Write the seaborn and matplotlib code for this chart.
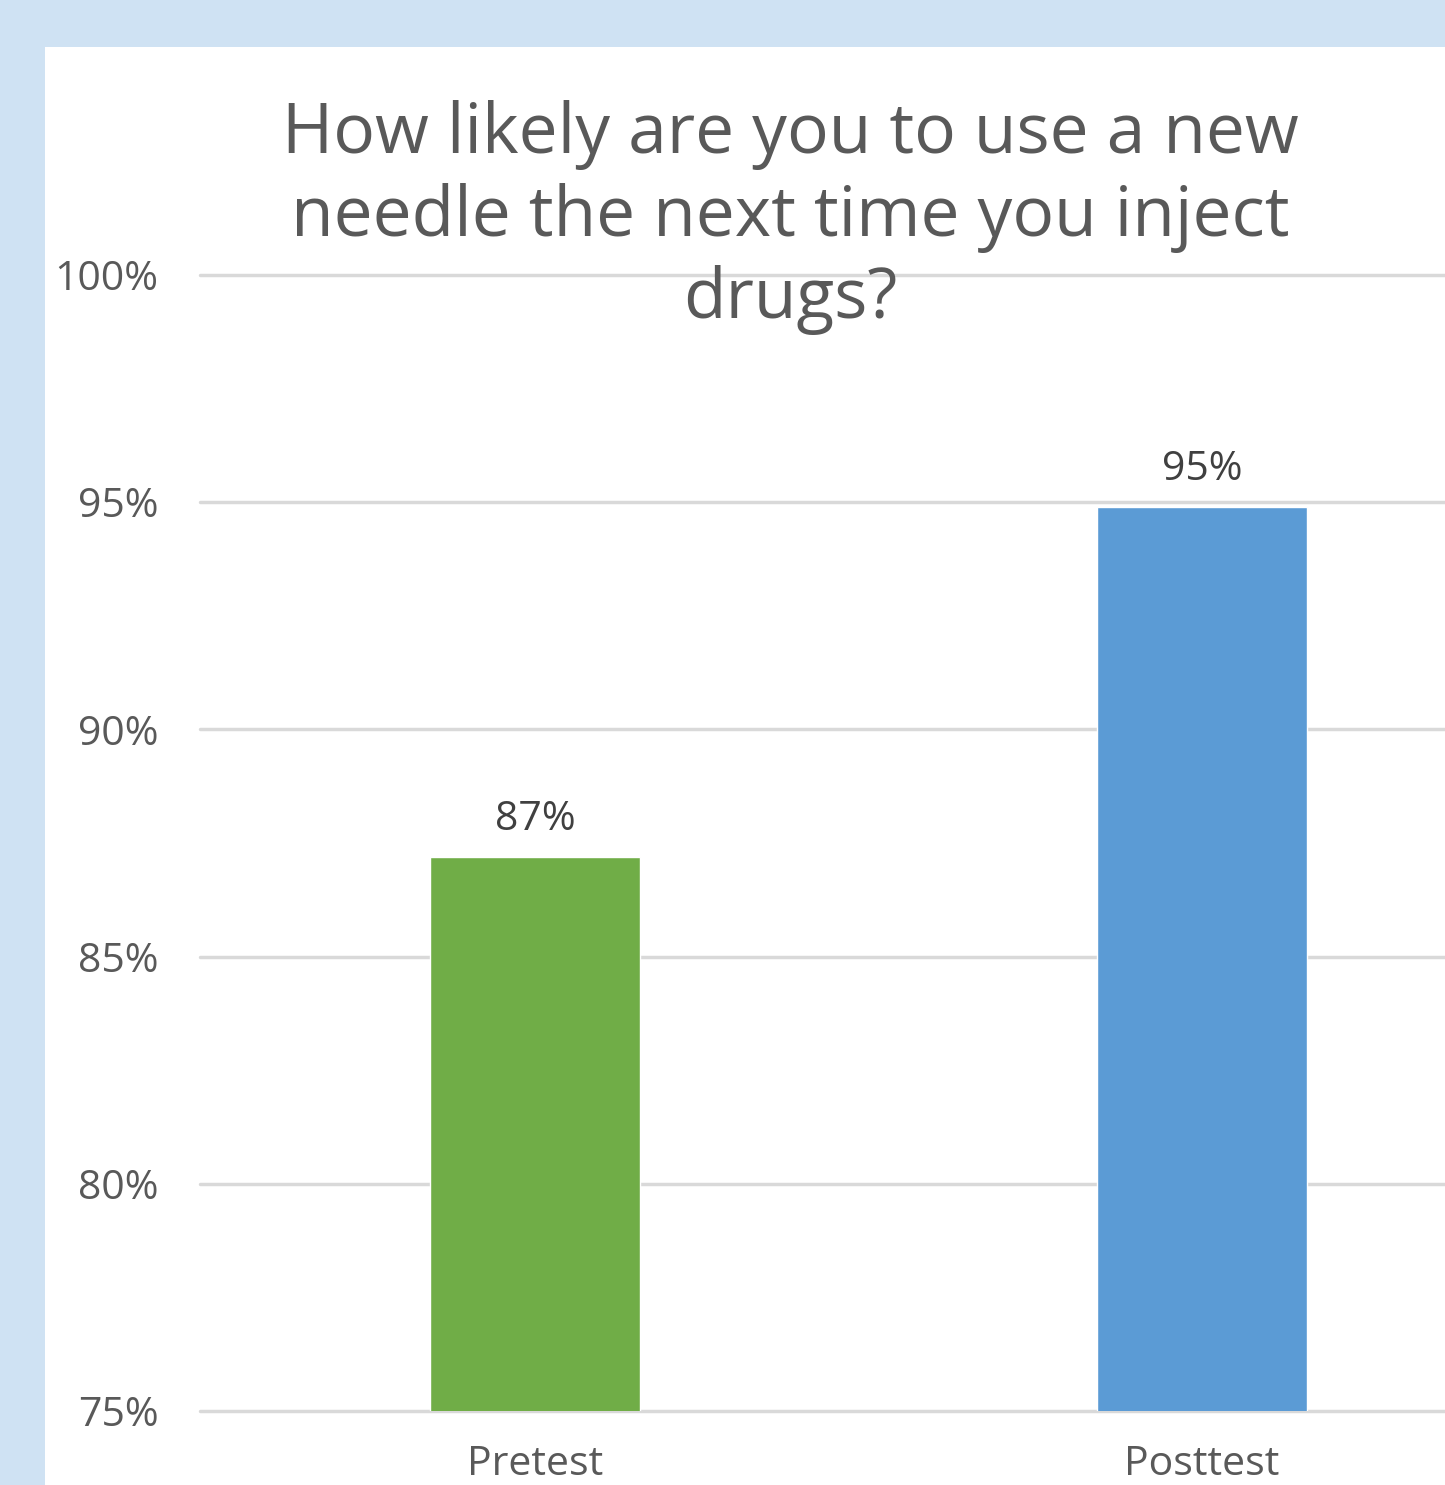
import matplotlib
matplotlib.use("Agg")
import matplotlib.pyplot as plt
import seaborn as sns
import pandas as pd
from matplotlib.patches import Rectangle

categories = ["Pretest", "Posttest"]
values = [87.2, 94.9]
bar_labels = ["87%", "95%"]
ytick_values = [75, 80, 85, 90, 95, 100]
ytick_labels = ["75%", "80%", "85%", "90%", "95%", "100%"]
title = "How likely are you to use a new\nneedle the next time you inject\ndrugs?"

colors = ["#70AD47", "#5B9BD5"]

sns.set_theme(style="white")
plt.rcParams['font.family'] = ['Open Sans', 'DejaVu Sans']

df = pd.DataFrame({"cat": categories, "val": values})

fig = plt.figure(figsize=(14.45, 14.85), dpi=100)
fig.patch.set_facecolor("#CFE2F3")
fig.patches.append(Rectangle((45 / 1445, 0), 1, 1 - 47 / 1485, transform=fig.transFigure,
                             facecolor="white", edgecolor="none", zorder=-10))

ax = fig.add_axes([200 / 1445, 1 - 1411 / 1485, 1 - 200 / 1445, (1411 - 275) / 1485])
ax.set_zorder(1)
ax.set_facecolor("none")

sns.barplot(data=df, x="cat", y="val", hue="cat", palette=colors, legend=False,
            width=0.315, ax=ax, zorder=3, saturation=1)

ax.set_ylim(75, 100)
ax.set_xlim(-0.502, 1.364)
ax.set_yticks(ytick_values)
ax.set_yticklabels(ytick_labels)
ax.yaxis.grid(True, color="#D9D9D9", linewidth=2.5, zorder=0)
ax.set_axisbelow(True)
for s in ax.spines.values():
    s.set_visible(False)
ax.tick_params(axis="y", length=0, pad=30, labelsize=29.5, labelcolor="#595959")
ax.tick_params(axis="x", length=0, pad=24, labelsize=29.5, labelcolor="#595959")
ax.set_xlabel("")
ax.set_ylabel("")
for gl in ax.get_ygridlines():
    gl.set_clip_on(False)

for container, lab in zip(ax.containers, bar_labels):
    ax.bar_label(container, labels=[lab], padding=12, fontsize=29.5, color="#404040")

fig.text(790 / 1445, 1 - 100 / 1485, title, ha="center", va="top", fontsize=50,
         color="#595959", linespacing=1.24, zorder=5)

fig.savefig("out.png", dpi=100, facecolor=fig.get_facecolor())
